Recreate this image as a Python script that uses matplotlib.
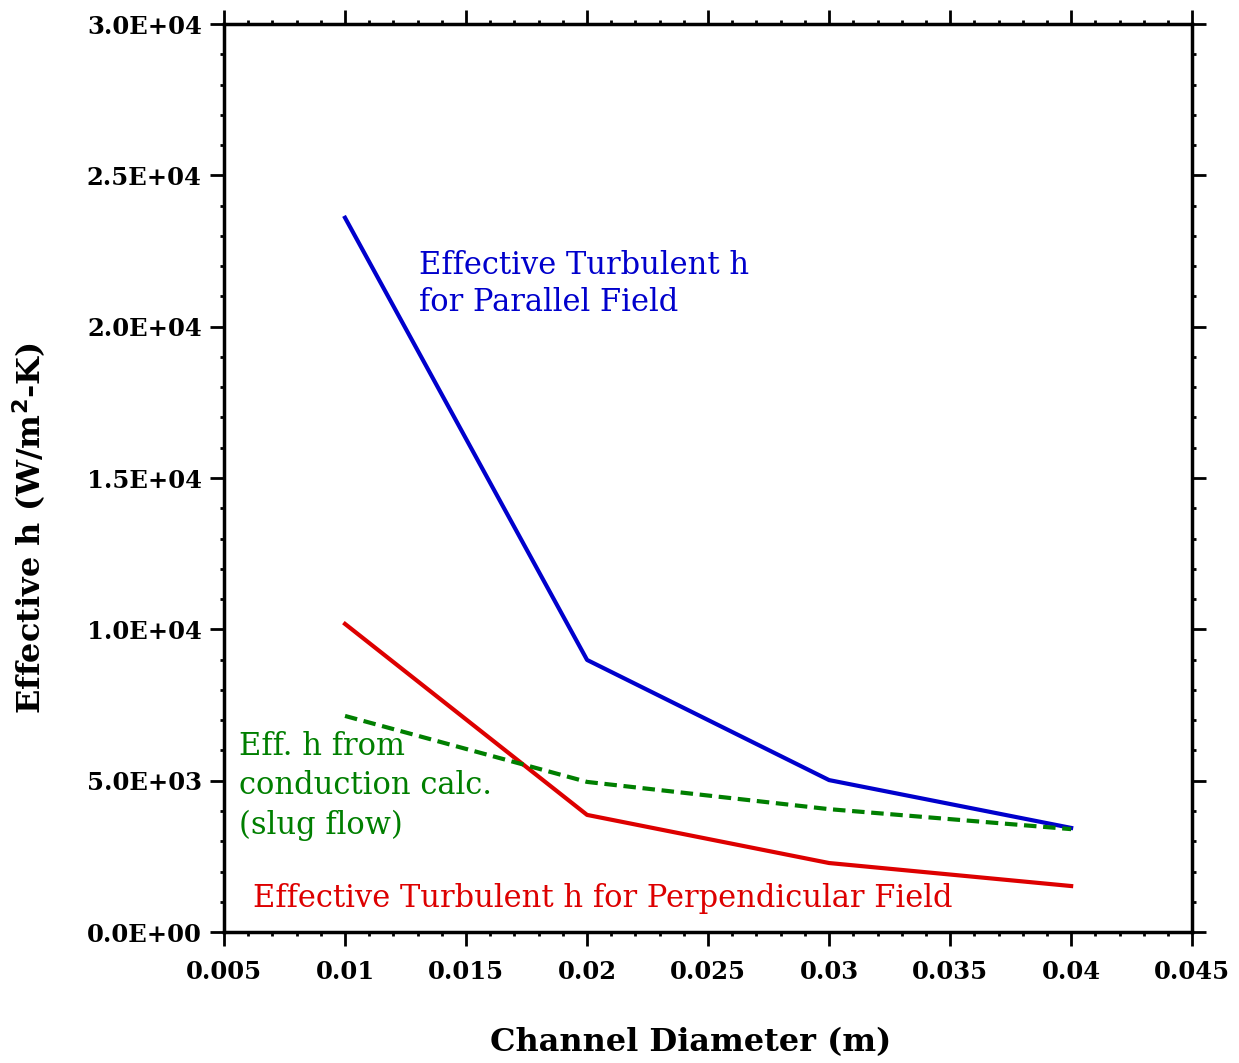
import numpy as np
import matplotlib.pyplot as plt
from matplotlib.ticker import MultipleLocator, FuncFormatter

# channel diameter (m)
diam = [0.01, 0.02, 0.03, 0.04]
# effective heat transfer coefficient (W/m^2-K)
h_parallel = [23600, 8990, 5020, 3440]
h_perpendicular = [10180, 3870, 2280, 1520]
h_conduction = [7140, 4960, 4060, 3400]

serif = "DejaVu Serif"


def sci_fmt(v, pos):
    s = f"{v:.1E}"
    return s


fig = plt.figure(figsize=(12.39, 10.63), dpi=100)
ax = fig.add_axes([0.1808, 0.1232, 0.7814, 0.8542])

ax.plot(diam, h_parallel, color="#0000CC", lw=3)
ax.plot(diam, h_perpendicular, color="#DD0000", lw=3)
ax.plot(diam, h_conduction, color="#007F00", lw=3, linestyle=(0, (3, 1.6)))

ax.set_xlim(0.005, 0.045)
ax.set_ylim(0, 30000)

ax.xaxis.set_major_locator(MultipleLocator(0.005))
ax.xaxis.set_minor_locator(MultipleLocator(0.001))
ax.yaxis.set_major_locator(MultipleLocator(5000))
ax.yaxis.set_minor_locator(MultipleLocator(1000))
ax.xaxis.set_major_formatter(FuncFormatter(lambda v, p: f"{v:g}"))
ax.yaxis.set_major_formatter(FuncFormatter(sci_fmt))

ax.tick_params(which="both", direction="out", top=True, right=True, width=2)
ax.tick_params(which="major", length=10)
ax.tick_params(which="minor", length=3)
ax.tick_params(axis="x", which="major", pad=10)
ax.tick_params(axis="y", which="major", pad=6)
for sp in ax.spines.values():
    sp.set_linewidth(2.5)

for lbl in ax.get_xticklabels() + ax.get_yticklabels():
    lbl.set_fontfamily(serif)
    lbl.set_fontweight("bold")
    lbl.set_fontsize(17.5)

ax.set_xlabel("Channel Diameter (m)", fontfamily=serif, fontweight="bold",
              fontsize=23)
ax.xaxis.set_label_coords(0.482, -0.105)
ax.set_ylabel("Effective h (W/m$^\\mathbf{2}$-K)", fontfamily=serif,
              fontweight="bold", fontsize=23)
ax.yaxis.set_label_coords(-0.182, 0.445)

ax.text(0.01306, 22550, "Effective Turbulent h\nfor Parallel Field",
        color="#0000CC", fontfamily=serif, fontsize=22, va="top",
        linespacing=1.25)
ax.text(0.00562, 6650, "Eff. h from\nconduction calc.\n(slug flow)",
        color="#007F00", fontfamily=serif, fontsize=22, va="top",
        linespacing=1.35)
ax.text(0.0062, 1100, "Effective Turbulent h for Perpendicular Field",
        color="#DD0000", fontfamily=serif, fontsize=22, va="center")

fig.savefig("out.png", dpi=100)
